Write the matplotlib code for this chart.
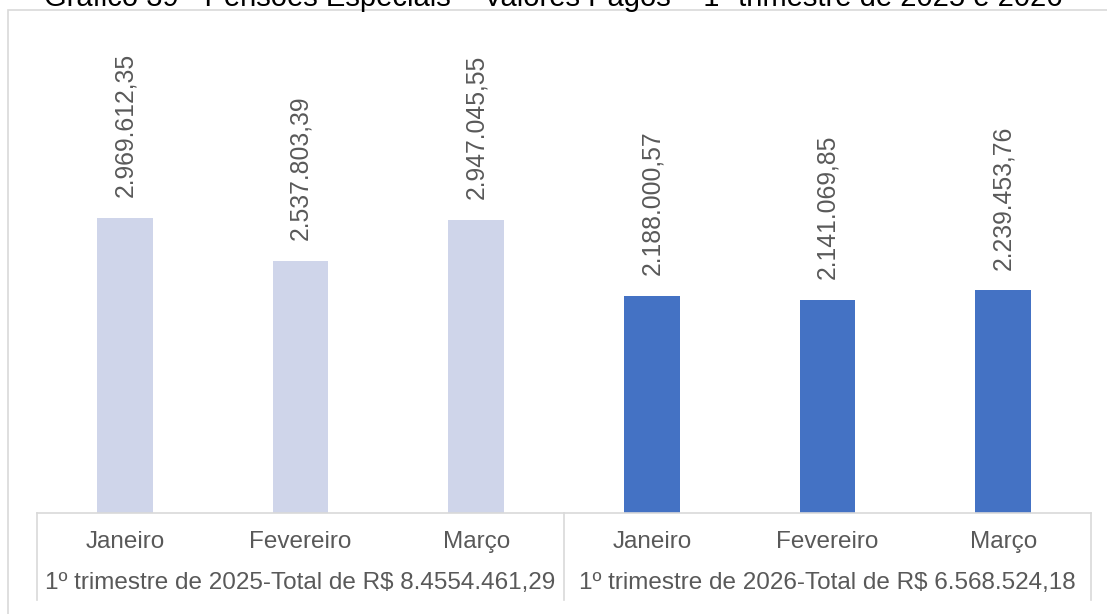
import matplotlib
matplotlib.use("Agg")
import matplotlib.pyplot as plt
from matplotlib.patches import Rectangle
from matplotlib.lines import Line2D
import matplotlib.transforms as mtransforms

plt.rcParams['font.family'] = ['Liberation Sans', 'DejaVu Sans']

title = "Gráfico 39 - Pensões Especiais – Valores Pagos – 1º trimestre de 2025 e 2026"
months = ["Janeiro", "Fevereiro", "Março", "Janeiro", "Fevereiro", "Março"]
values = [2969612.35, 2537803.39, 2947045.55, 2188000.57, 2141069.85, 2239453.76]
value_labels = ["2.969.612,35", "2.537.803,39", "2.947.045,55",
                "2.188.000,57", "2.141.069,85", "2.239.453,76"]
groups = ["1º trimestre de 2025-Total de R$ 8.4554.461,29",
          "1º trimestre de 2026-Total de R$ 6.568.524,18"]
colors = ["#CFD5EA"] * 3 + ["#4472C4"] * 3

W, H = 1107, 614
fig = plt.figure(figsize=(W / 100, H / 100), dpi=100)

left, right, bottom, top = 37, 1091, 513, 16
ax = fig.add_axes([left / W, (H - bottom) / H, (right - left) / W, (bottom - top) / H])
x = list(range(len(values)))
ax.bar(x, values, width=0.315, color=colors)
ax.set_xlim(-0.5, len(values) - 0.5)
ax.set_ylim(0, 5.0e6)
ax.set_yticks([])
for s in ["top", "left", "right"]:
    ax.spines[s].set_visible(False)
ax.spines["bottom"].set_color("#D9D9D9")
ax.spines["bottom"].set_linewidth(1.2)
ax.set_xticks(x)
ax.set_xticklabels(months, fontsize=17.5, color="#595959")
ax.tick_params(axis="x", length=0, pad=13)

for xi, v, lab in zip(x, values, value_labels):
    ax.annotate(lab, (xi, v), xytext=(0, 15), textcoords="offset points",
                rotation=90, ha="center", va="bottom", fontsize=17.8, color="#595959")

trans = mtransforms.blended_transform_factory(ax.transData, ax.transAxes)
depth = (600 - bottom) / (bottom - top)
for xv in [-0.5, 2.5, 5.5]:
    ax.add_line(Line2D([xv, xv], [0, -depth], transform=trans, color="#D9D9D9",
                       lw=1.2, clip_on=False))
gy = -(583 - bottom) / (bottom - top)
ax.text(1, gy, groups[0], transform=trans, ha="center", va="center",
        fontsize=17.5, color="#595959")
ax.text(4, gy, groups[1], transform=trans, ha="center", va="center",
        fontsize=17.5, color="#595959")

fig.add_artist(Rectangle((8 / W, -0.2), 1.2, 1.2 + (H - 10) / H - 1.0,
                         transform=fig.transFigure, fill=False,
                         edgecolor="#D9D9D9", lw=1.2))

fig.text(0.5, 1 - 6 / H, title, ha="center", va="baseline", fontsize=21, color="#000000")

fig.savefig("out.png", dpi=100)
